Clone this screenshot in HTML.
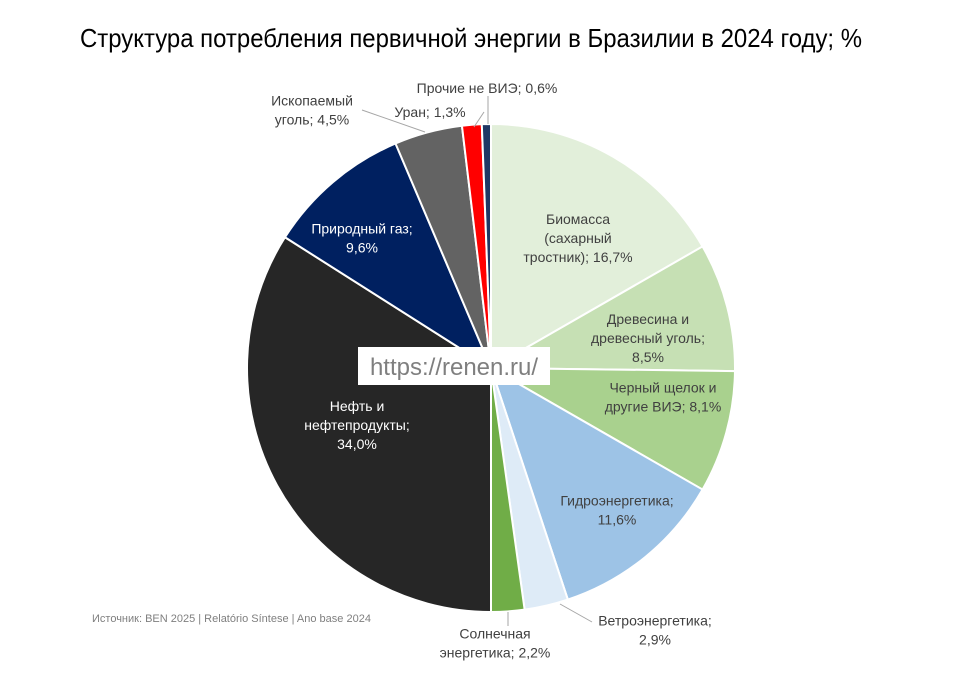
<!DOCTYPE html>
<html><head><meta charset="utf-8"><style>
body{margin:0;background:#fff;}
svg{display:block;font-family:"Liberation Sans",sans-serif;}
</style></head><body>
<svg id="chart" width="960" height="688" viewBox="0 0 960 688">
<text x="80" y="47" font-size="26" font-family="'Liberation Sans Narrow','Liberation Sans',sans-serif" textLength="782" lengthAdjust="spacingAndGlyphs" fill="#000">Структура потребления первичной энергии в Бразилии в 2024 году; %</text>
<g id="slices"></g>
<g id="leaders" stroke="#a6a6a6" stroke-width="1">
<line x1="362" y1="110" x2="425" y2="132"/>
<line x1="484" y1="112" x2="474" y2="127"/>
<line x1="488" y1="96" x2="488" y2="124"/>
<line x1="592" y1="622" x2="560" y2="604"/>
<line x1="508" y1="626" x2="508" y2="612"/>
</g>
<rect x="358" y="347" width="192" height="38" fill="#fff"/>
<text x="454" y="375" font-size="24" fill="#7f7f7f" text-anchor="middle">https://renen.ru/</text>
<g id="labels" font-size="14" text-anchor="middle"></g>
<text x="92" y="622" font-size="11" fill="#7f7f7f">Источник: BEN 2025 | Relatório Síntese | Ano base 2024</text>
</svg>
<script>
const categories=["Биомасса (сахарный тростник)","Древесина и древесный уголь","Черный щелок и другие ВИЭ","Гидроэнергетика","Ветроэнергетика","Солнечная энергетика","Нефть и нефтепродукты","Природный газ","Ископаемый уголь","Уран","Прочие не ВИЭ"];
const values=[16.7,8.5,8.1,11.6,2.9,2.2,34.0,9.6,4.5,1.3,0.6];
const colors=["#e2efda","#c6e0b4","#a9d18e","#9dc3e6","#deebf7","#70ad47","#262626","#002060","#636363","#ff0000","#1f3864"];
const labelLines=[["Биомасса","(сахарный","тростник); 16,7%"],["Древесина и","древесный уголь;","8,5%"],["Черный щелок и","другие ВИЭ; 8,1%"],["Гидроэнергетика;","11,6%"],["Ветроэнергетика;","2,9%"],["Солнечная","энергетика; 2,2%"],["Нефть и","нефтепродукты;","34,0%"],["Природный газ;","9,6%"],["Ископаемый","уголь; 4,5%"],["Уран; 1,3%"],["Прочие не ВИЭ; 0,6%"]];
const NS="http://www.w3.org/2000/svg";
const cx=491,cy=368,R=244;
const total=values.reduce((a,b)=>a+b,0);
function angle(v){return v/total*2*Math.PI;}
function pt(a,r){return [cx+r*Math.sin(a),cy-r*Math.cos(a)];}
const gS=document.getElementById('slices'),gL=document.getElementById('labels');
const labelPos=[[578,238],[648,338],[663,397],[617,510],[655,630],[495,643],[357,425],[362,238],[312,110],[430,112],[487,88]];
let a0=0;
values.forEach((v,i)=>{
  const a1=a0+angle(v);
  const p0=pt(a0,R),p1=pt(a1,R);
  const large=(a1-a0)>Math.PI?1:0;
  const p=document.createElementNS(NS,'path');
  p.setAttribute('d',`M${cx},${cy}L${p0[0]},${p0[1]}A${R},${R} 0 ${large} 1 ${p1[0]},${p1[1]}Z`);
  p.setAttribute('fill',colors[i]);p.setAttribute('stroke','#fff');p.setAttribute('stroke-width','2');
  
  
  gS.appendChild(p);
  const fill=(i>=6&&i<=7)?"#fff":"#404040";
  const pos=labelPos[i];
  const lines=labelLines[i];
  const t=document.createElementNS(NS,'text');
  t.setAttribute('fill',fill);
  
  
  const y0=pos[1]-(lines.length-1)*9.5+5;
  lines.forEach((s,k)=>{const ts=document.createElementNS(NS,'tspan');ts.setAttribute('x',pos[0]);ts.setAttribute('y',y0+k*19);ts.textContent=s;t.appendChild(ts);});
  gL.appendChild(t);
  a0=a1;
});
</script>
</body></html>
